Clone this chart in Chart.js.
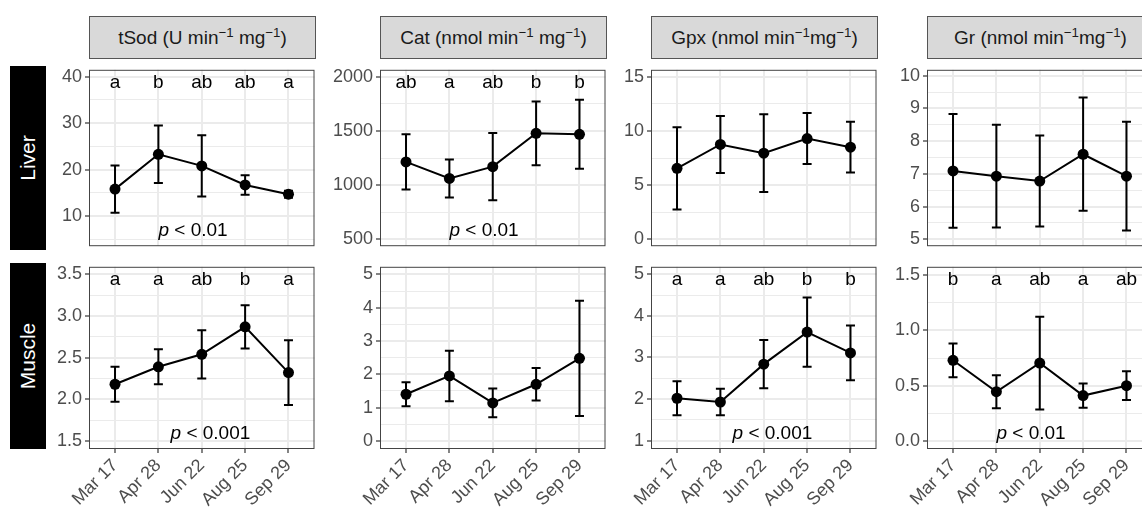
<!DOCTYPE html>
<html>
<head>
<meta charset="utf-8">
<script src="https://cdn.jsdelivr.net/npm/chart.js@4"></script>
<style>
  body { margin: 0; background: #fff; }
  #page { position: relative; width: 1142px; height: 509px; overflow: hidden; font-family: "Liberation Sans", Arial, sans-serif; }
  .strip { position: absolute; top: 16px; height: 43px; box-sizing: border-box; background: #d9d9d9; border: 1px solid #555;
           display: flex; align-items: center; justify-content: center; font-size: 19px; color: #1a1a1a; white-space: nowrap; }
  .strip sup { font-size: 0.7em; vertical-align: 0.5em; line-height: 0; }
  .rowlab { position: absolute; left: 10px; width: 36px; background: #000; color: #fff; font-size: 21px;
            display: flex; align-items: center; justify-content: center; }
  .rowlab span { transform: rotate(-90deg); white-space: nowrap; }
  canvas { position: absolute; }
</style>
</head>
<body>
<div id="page"></div>
<script>
// ---- data ----
const dates = ['Mar 17', 'Apr 28', 'Jun 22', 'Aug 25', 'Sep 29'];
const tissues = ['Liver', 'Muscle'];
const stripTitles = [
  'tSod (U min<sup>−1</sup> mg<sup>−1</sup>)',
  'Cat (nmol min<sup>−1</sup> mg<sup>−1</sup>)',
  'Gpx (nmol min<sup>−1</sup>mg<sup>−1</sup>)',
  'Gr (nmol min<sup>−1</sup>mg<sup>−1</sup>)'
];

// liver
const liverTsodMean = [15.8, 23.3, 20.8, 16.7, 14.7];
const liverTsodSd   = [5.1, 6.2, 6.6, 2.1, 0.75];
const liverCatMean  = [1214, 1061, 1170, 1478, 1469];
const liverCatSd    = [256, 176, 310, 294, 319];
const liverGpxMean  = [6.55, 8.75, 7.95, 9.3, 8.5];
const liverGpxSd    = [3.8, 2.63, 3.6, 2.36, 2.35];
const liverGrMean   = [7.09, 6.93, 6.78, 7.6, 6.93];
const liverGrSd     = [1.74, 1.57, 1.39, 1.73, 1.66];

// muscle
const muscleTsodMean = [2.18, 2.39, 2.54, 2.87, 2.32];
const muscleTsodSd   = [0.21, 0.21, 0.29, 0.26, 0.39];
const muscleCatMean  = [1.4, 1.95, 1.14, 1.7, 2.48];
const muscleCatSd    = [0.36, 0.76, 0.43, 0.49, 1.73];
const muscleGpxMean  = [2.02, 1.93, 2.84, 3.61, 3.11];
const muscleGpxSd    = [0.41, 0.32, 0.58, 0.83, 0.66];
const muscleGrMean   = [0.73, 0.445, 0.705, 0.41, 0.5];
const muscleGrSd     = [0.153, 0.15, 0.42, 0.11, 0.13];

// significance letters
const liverTsodLetters  = ['a', 'b', 'ab', 'ab', 'a'];
const liverCatLetters   = ['ab', 'a', 'ab', 'b', 'b'];
const muscleTsodLetters = ['a', 'a', 'ab', 'b', 'a'];
const muscleGpxLetters  = ['a', 'a', 'ab', 'b', 'b'];
const muscleGrLetters   = ['b', 'a', 'ab', 'a', 'ab'];

// y axis ticks
const liverTsodTicks  = [10, 20, 30, 40];
const liverCatTicks   = [500, 1000, 1500, 2000];
const liverGpxTicks   = [0, 5, 10, 15];
const liverGrTicks    = [5, 6, 7, 8, 9, 10];
const muscleTsodTicks = [1.5, 2.0, 2.5, 3.0, 3.5];
const muscleCatTicks  = [0, 1, 2, 3, 4, 5];
const muscleGpxTicks  = [1, 2, 3, 4, 5];
const muscleGrTicks   = [0, 0.5, 1.0, 1.5];

const panels = [
  { col: 0, row: 0, mean: liverTsodMean, sd: liverTsodSd, ticks: liverTsodTicks, lim: [3.5, 41.5], dec: 0, letters: liverTsodLetters, p: '< 0.01', px: 1.8 },
  { col: 1, row: 0, mean: liverCatMean, sd: liverCatSd, ticks: liverCatTicks, lim: [435, 2065], dec: 0, letters: liverCatLetters, p: '< 0.01', px: 1.8 },
  { col: 2, row: 0, mean: liverGpxMean, sd: liverGpxSd, ticks: liverGpxTicks, lim: [-0.65, 15.65], dec: 0, letters: [], p: null },
  { col: 3, row: 0, mean: liverGrMean, sd: liverGrSd, ticks: liverGrTicks, lim: [4.79, 10.18], dec: 0, letters: [], p: null },
  { col: 0, row: 1, mean: muscleTsodMean, sd: muscleTsodSd, ticks: muscleTsodTicks, lim: [1.402, 3.591], dec: 1, letters: muscleTsodLetters, p: '< 0.001', px: 2.2 },
  { col: 1, row: 1, mean: muscleCatMean, sd: muscleCatSd, ticks: muscleCatTicks, lim: [-0.245, 5.23], dec: 0, letters: [], p: null },
  { col: 2, row: 1, mean: muscleGpxMean, sd: muscleGpxSd, ticks: muscleGpxTicks, lim: [0.80, 5.18], dec: 0, letters: muscleGpxLetters, p: '< 0.001', px: 2.2 },
  { col: 3, row: 1, mean: muscleGrMean, sd: muscleGrSd, ticks: muscleGrTicks, lim: [-0.074, 1.577], dec: 1, letters: muscleGrLetters, p: '< 0.01', px: 1.8 }
];

// ---- layout ----
const colLeft = [89, 380, 651, 927];
const panelW = 227;
const rowTop = [66, 263];
const rowH = [184, 186];
const AXW = 50, PAD = 10, XAXH = 60;
const FONT = '"Liberation Sans", Arial, sans-serif';
const NOTE = 19;

Chart.defaults.font.family = FONT;

const page = document.getElementById('page');

stripTitles.forEach((t, c) => {
  const d = document.createElement('div');
  d.className = 'strip';
  d.style.left = colLeft[c] + 'px';
  d.style.width = panelW + 'px';
  d.innerHTML = '<span>' + t + '</span>';
  page.appendChild(d);
});

tissues.forEach((t, r) => {
  const d = document.createElement('div');
  d.className = 'rowlab';
  d.style.top = rowTop[r] + 'px';
  d.style.height = rowH[r] + 'px';
  d.innerHTML = '<span>' + t + '</span>';
  page.appendChild(d);
});

panels.forEach(p => {
  const cv = document.createElement('canvas');
  const w = AXW + panelW + 4;
  const h = PAD + rowH[p.row] + (p.row === 0 ? PAD : XAXH);
  cv.width = w; cv.height = h;
  cv.style.left = (colLeft[p.col] - AXW) + 'px';
  cv.style.top = (rowTop[p.row] - PAD) + 'px';
  page.appendChild(cv);

  // minor gridlines halfway between the labelled ticks
  const step = p.ticks[1] - p.ticks[0];
  const minors = [p.ticks[0] - step / 2, ...p.ticks.map(t => t + step / 2)]
    .filter(v => v > p.lim[0] && v < p.lim[1]);
  const allTicks = [...p.ticks, ...minors].sort((a, b) => a - b);
  const isMajor = v => p.ticks.some(t => Math.abs(t - v) < 1e-9);

  const decor = {
    id: 'decor',
    beforeDatasetsDraw(chart) {
      const { ctx, scales: { x, y } } = chart;
      ctx.save();
      ctx.strokeStyle = '#000';
      ctx.lineWidth = 2;
      p.mean.forEach((m, i) => {
        const xp = x.getPixelForValue(i);
        const y1 = y.getPixelForValue(m + p.sd[i]);
        const y0 = y.getPixelForValue(m - p.sd[i]);
        ctx.beginPath();
        ctx.moveTo(xp, y1); ctx.lineTo(xp, y0);
        ctx.moveTo(xp - 4.5, y1); ctx.lineTo(xp + 4.5, y1);
        ctx.moveTo(xp - 4.5, y0); ctx.lineTo(xp + 4.5, y0);
        ctx.stroke();
      });
      ctx.restore();
    },
    afterDraw(chart) {
      const { ctx, chartArea: a, scales: { x } } = chart;
      ctx.save();
      ctx.fillStyle = '#000';
      ctx.textBaseline = 'middle';
      ctx.textAlign = 'center';
      ctx.font = NOTE + 'px ' + FONT;
      p.letters.forEach((t, i) => ctx.fillText(t, x.getPixelForValue(i), a.top + 13));
      if (p.p) {
        ctx.font = 'italic ' + NOTE + 'px ' + FONT;
        const wp = ctx.measureText('p ').width;
        ctx.font = NOTE + 'px ' + FONT;
        const wr = ctx.measureText(p.p).width;
        const x0 = x.getPixelForValue(p.px) - (wp + wr) / 2;
        ctx.textAlign = 'left';
        ctx.font = 'italic ' + NOTE + 'px ' + FONT;
        ctx.fillText('p', x0, a.bottom - 15);
        ctx.font = NOTE + 'px ' + FONT;
        ctx.fillText(p.p, x0 + wp, a.bottom - 15);
      }
      // panel border
      ctx.strokeStyle = '#444';
      ctx.lineWidth = 1;
      ctx.strokeRect(a.left + 0.5, a.top + 0.5, a.right - a.left - 1, a.bottom - a.top - 1);
      ctx.restore();
    }
  };

  new Chart(cv, {
    type: 'line',
    data: {
      datasets: [{
        data: p.mean.map((m, i) => ({ x: i, y: m })),
        borderColor: '#000',
        borderWidth: 2,
        pointRadius: 5.5,
        pointBackgroundColor: '#000',
        pointBorderWidth: 0,
        tension: 0
      }]
    },
    options: {
      responsive: false,
      animation: false,
      devicePixelRatio: 1,
      events: [],
      layout: { padding: { top: PAD, right: 4, bottom: p.row === 0 ? PAD : 0, left: 0 } },
      plugins: { legend: { display: false }, tooltip: { enabled: false } },
      scales: {
        x: {
          type: 'linear',
          min: -0.6,
          max: 4.6,
          afterBuildTicks: axis => { axis.ticks = dates.map((d, i) => ({ value: i })); },
          afterFit: axis => { axis.height = p.row === 0 ? 0 : XAXH; },
          border: { display: false },
          grid: { color: '#ebebeb', lineWidth: 2, drawTicks: p.row === 1, tickLength: 4, tickColor: '#333', tickWidth: 1.2 },
          ticks: {
            display: p.row === 1,
            autoSkip: false,
            minRotation: 45,
            maxRotation: 45,
            padding: 2,
            color: '#4d4d4d',
            font: { size: 18 },
            callback: v => dates[v]
          }
        },
        y: {
          min: p.lim[0],
          max: p.lim[1],
          afterBuildTicks: axis => { axis.ticks = allTicks.map(v => ({ value: v })); },
          afterFit: axis => { axis.width = AXW; },
          border: { display: false },
          grid: {
            color: '#ebebeb',
            lineWidth: c => isMajor(c.tick.value) ? 2 : 1,
            tickLength: 4,
            tickColor: c => isMajor(c.tick.value) ? '#333' : 'rgba(0,0,0,0)',
            tickWidth: 1.2
          },
          ticks: {
            autoSkip: false,
            padding: 3,
            color: '#4d4d4d',
            font: { size: 18 },
            callback: v => isMajor(v) ? v.toFixed(p.dec) : ''
          }
        }
      }
    },
    plugins: [decor]
  });
});
</script>
</body>
</html>
